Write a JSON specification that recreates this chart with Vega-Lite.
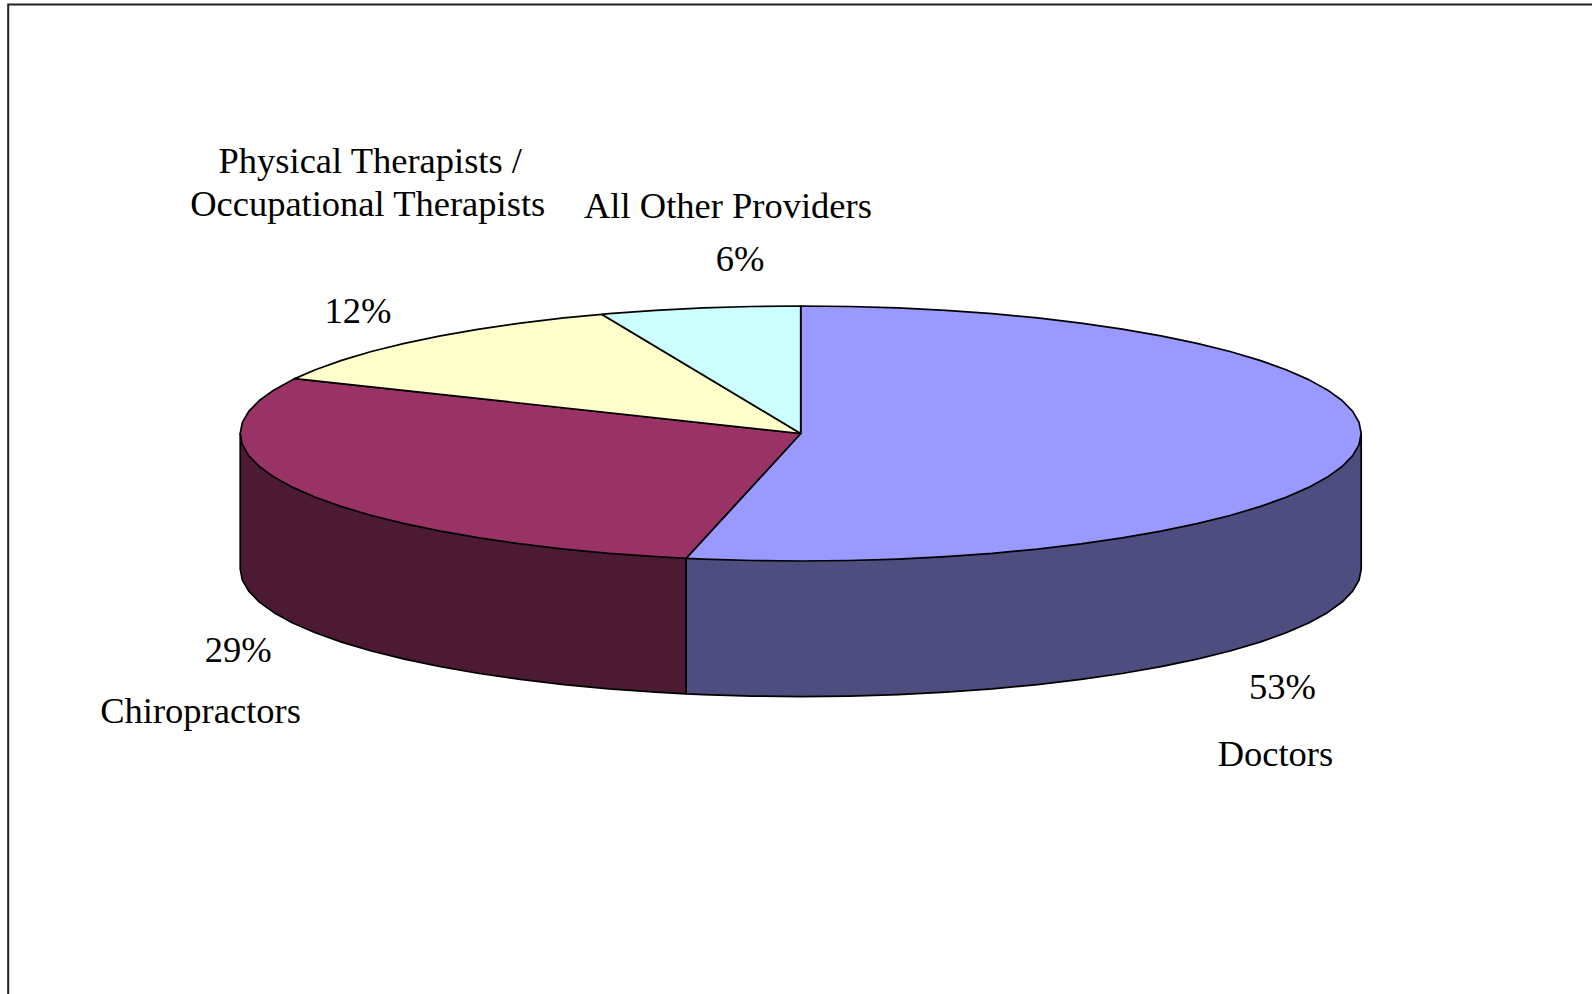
{
"$schema":"https://vega.github.io/schema/vega-lite/v6.json",
"width":1592,"height":994,
"autosize":{"type":"fit","contains":"padding"},
"padding":0,
"background":"white",
"view":{"stroke":null},
"config":{"style":{"cell":{"stroke":null}}},
"layer":[
{"data":{"values":[
{"o":1,"x":-141.4,"y":-439.6},{"o":2,"x":-141.4,"y":336.5},{"o":3,"x":141.18,"y":336.5}
]},
"mark":{"type":"line","stroke":"#222222","strokeWidth":2,"clip":true},
"encoding":{
"x":{"field":"x","type":"quantitative","scale":{"domain":[-142.86,141.18],"nice":false,"zero":false},"axis":null},
"y":{"field":"y","type":"quantitative","scale":{"domain":[-439.6,340],"nice":false,"zero":false},"axis":null},
"order":{"field":"o"}}},
{"data":{"values":[
{"s":"Doctors side","o":0,"x":100,"y":0},
{"s":"Doctors side","o":1,"x":100,"y":-106.3},
{"s":"Doctors side","o":2,"x":99.62,"y":-115.02},
{"s":"Doctors side","o":3,"x":98.48,"y":-123.66},
{"s":"Doctors side","o":4,"x":96.59,"y":-132.18},
{"s":"Doctors side","o":5,"x":93.97,"y":-140.5},
{"s":"Doctors side","o":6,"x":90.63,"y":-148.56},
{"s":"Doctors side","o":7,"x":86.6,"y":-156.3},
{"s":"Doctors side","o":8,"x":81.92,"y":-163.66},
{"s":"Doctors side","o":9,"x":76.6,"y":-170.58},
{"s":"Doctors side","o":10,"x":70.71,"y":-177.01},
{"s":"Doctors side","o":11,"x":64.28,"y":-182.9},
{"s":"Doctors side","o":12,"x":57.36,"y":-188.22},
{"s":"Doctors side","o":13,"x":50,"y":-192.9},
{"s":"Doctors side","o":14,"x":42.26,"y":-196.93},
{"s":"Doctors side","o":15,"x":34.2,"y":-200.27},
{"s":"Doctors side","o":16,"x":25.88,"y":-202.89},
{"s":"Doctors side","o":17,"x":17.36,"y":-204.78},
{"s":"Doctors side","o":18,"x":8.72,"y":-205.92},
{"s":"Doctors side","o":19,"x":0,"y":-206.3},
{"s":"Doctors side","o":20,"x":-8.72,"y":-205.92},
{"s":"Doctors side","o":21,"x":-17.36,"y":-204.78},
{"s":"Doctors side","o":22,"x":-20.45,"y":-204.19},
{"s":"Doctors side","o":23,"x":-20.45,"y":-97.89},
{"s":"Chiropractors side","o":0,"x":-20.45,"y":-97.89},
{"s":"Chiropractors side","o":1,"x":-20.45,"y":-204.19},
{"s":"Chiropractors side","o":2,"x":-25.88,"y":-202.89},
{"s":"Chiropractors side","o":3,"x":-34.2,"y":-200.27},
{"s":"Chiropractors side","o":4,"x":-42.26,"y":-196.93},
{"s":"Chiropractors side","o":5,"x":-50,"y":-192.9},
{"s":"Chiropractors side","o":6,"x":-57.36,"y":-188.22},
{"s":"Chiropractors side","o":7,"x":-64.28,"y":-182.9},
{"s":"Chiropractors side","o":8,"x":-70.71,"y":-177.01},
{"s":"Chiropractors side","o":9,"x":-76.6,"y":-170.58},
{"s":"Chiropractors side","o":10,"x":-81.92,"y":-163.66},
{"s":"Chiropractors side","o":11,"x":-86.6,"y":-156.3},
{"s":"Chiropractors side","o":12,"x":-90.63,"y":-148.56},
{"s":"Chiropractors side","o":13,"x":-93.97,"y":-140.5},
{"s":"Chiropractors side","o":14,"x":-96.59,"y":-132.18},
{"s":"Chiropractors side","o":15,"x":-98.48,"y":-123.66},
{"s":"Chiropractors side","o":16,"x":-99.62,"y":-115.02},
{"s":"Chiropractors side","o":17,"x":-100,"y":-106.3},
{"s":"Chiropractors side","o":18,"x":-100,"y":0},
{"s":"Doctors","o":0,"x":0,"y":0},
{"s":"Doctors","o":1,"x":0,"y":100},
{"s":"Doctors","o":2,"x":8.72,"y":99.62},
{"s":"Doctors","o":3,"x":17.36,"y":98.48},
{"s":"Doctors","o":4,"x":25.88,"y":96.59},
{"s":"Doctors","o":5,"x":34.2,"y":93.97},
{"s":"Doctors","o":6,"x":42.26,"y":90.63},
{"s":"Doctors","o":7,"x":50,"y":86.6},
{"s":"Doctors","o":8,"x":57.36,"y":81.92},
{"s":"Doctors","o":9,"x":64.28,"y":76.6},
{"s":"Doctors","o":10,"x":70.71,"y":70.71},
{"s":"Doctors","o":11,"x":76.6,"y":64.28},
{"s":"Doctors","o":12,"x":81.92,"y":57.36},
{"s":"Doctors","o":13,"x":86.6,"y":50},
{"s":"Doctors","o":14,"x":90.63,"y":42.26},
{"s":"Doctors","o":15,"x":93.97,"y":34.2},
{"s":"Doctors","o":16,"x":96.59,"y":25.88},
{"s":"Doctors","o":17,"x":98.48,"y":17.36},
{"s":"Doctors","o":18,"x":99.62,"y":8.72},
{"s":"Doctors","o":19,"x":100,"y":0},
{"s":"Doctors","o":20,"x":99.62,"y":-8.72},
{"s":"Doctors","o":21,"x":98.48,"y":-17.36},
{"s":"Doctors","o":22,"x":96.59,"y":-25.88},
{"s":"Doctors","o":23,"x":93.97,"y":-34.2},
{"s":"Doctors","o":24,"x":90.63,"y":-42.26},
{"s":"Doctors","o":25,"x":86.6,"y":-50},
{"s":"Doctors","o":26,"x":81.92,"y":-57.36},
{"s":"Doctors","o":27,"x":76.6,"y":-64.28},
{"s":"Doctors","o":28,"x":70.71,"y":-70.71},
{"s":"Doctors","o":29,"x":64.28,"y":-76.6},
{"s":"Doctors","o":30,"x":57.36,"y":-81.92},
{"s":"Doctors","o":31,"x":50,"y":-86.6},
{"s":"Doctors","o":32,"x":42.26,"y":-90.63},
{"s":"Doctors","o":33,"x":34.2,"y":-93.97},
{"s":"Doctors","o":34,"x":25.88,"y":-96.59},
{"s":"Doctors","o":35,"x":17.36,"y":-98.48},
{"s":"Doctors","o":36,"x":8.72,"y":-99.62},
{"s":"Doctors","o":37,"x":0,"y":-100},
{"s":"Doctors","o":38,"x":-8.72,"y":-99.62},
{"s":"Doctors","o":39,"x":-17.36,"y":-98.48},
{"s":"Doctors","o":40,"x":-20.45,"y":-97.89},
{"s":"Chiropractors","o":0,"x":0,"y":0},
{"s":"Chiropractors","o":1,"x":-20.45,"y":-97.89},
{"s":"Chiropractors","o":2,"x":-25.88,"y":-96.59},
{"s":"Chiropractors","o":3,"x":-34.2,"y":-93.97},
{"s":"Chiropractors","o":4,"x":-42.26,"y":-90.63},
{"s":"Chiropractors","o":5,"x":-50,"y":-86.6},
{"s":"Chiropractors","o":6,"x":-57.36,"y":-81.92},
{"s":"Chiropractors","o":7,"x":-64.28,"y":-76.6},
{"s":"Chiropractors","o":8,"x":-70.71,"y":-70.71},
{"s":"Chiropractors","o":9,"x":-76.6,"y":-64.28},
{"s":"Chiropractors","o":10,"x":-81.92,"y":-57.36},
{"s":"Chiropractors","o":11,"x":-86.6,"y":-50},
{"s":"Chiropractors","o":12,"x":-90.63,"y":-42.26},
{"s":"Chiropractors","o":13,"x":-93.97,"y":-34.2},
{"s":"Chiropractors","o":14,"x":-96.59,"y":-25.88},
{"s":"Chiropractors","o":15,"x":-98.48,"y":-17.36},
{"s":"Chiropractors","o":16,"x":-99.62,"y":-8.72},
{"s":"Chiropractors","o":17,"x":-100,"y":0},
{"s":"Chiropractors","o":18,"x":-99.62,"y":8.72},
{"s":"Chiropractors","o":19,"x":-98.48,"y":17.36},
{"s":"Chiropractors","o":20,"x":-96.59,"y":25.88},
{"s":"Chiropractors","o":21,"x":-93.97,"y":34.2},
{"s":"Chiropractors","o":22,"x":-90.63,"y":42.26},
{"s":"Chiropractors","o":23,"x":-90.26,"y":43.05},
{"s":"Physical Therapists / Occupational Therapists","o":0,"x":0,"y":0},
{"s":"Physical Therapists / Occupational Therapists","o":1,"x":-90.26,"y":43.05},
{"s":"Physical Therapists / Occupational Therapists","o":2,"x":-86.6,"y":50},
{"s":"Physical Therapists / Occupational Therapists","o":3,"x":-81.92,"y":57.36},
{"s":"Physical Therapists / Occupational Therapists","o":4,"x":-76.6,"y":64.28},
{"s":"Physical Therapists / Occupational Therapists","o":5,"x":-70.71,"y":70.71},
{"s":"Physical Therapists / Occupational Therapists","o":6,"x":-64.28,"y":76.6},
{"s":"Physical Therapists / Occupational Therapists","o":7,"x":-57.36,"y":81.92},
{"s":"Physical Therapists / Occupational Therapists","o":8,"x":-50,"y":86.6},
{"s":"Physical Therapists / Occupational Therapists","o":9,"x":-42.26,"y":90.63},
{"s":"Physical Therapists / Occupational Therapists","o":10,"x":-35.51,"y":93.48},
{"s":"All Other Providers","o":0,"x":0,"y":0},
{"s":"All Other Providers","o":1,"x":-35.51,"y":93.48},
{"s":"All Other Providers","o":2,"x":-34.2,"y":93.97},
{"s":"All Other Providers","o":3,"x":-25.88,"y":96.59},
{"s":"All Other Providers","o":4,"x":-17.36,"y":98.48},
{"s":"All Other Providers","o":5,"x":-8.72,"y":99.62},
{"s":"All Other Providers","o":6,"x":0,"y":100}
]},
"mark":{"type":"line","filled":true,"interpolate":"linear-closed","stroke":"#000000","strokeWidth":1.7,"strokeJoin":"round"},
"encoding":{
"x":{"field":"x","type":"quantitative","axis":null},
"y":{"field":"y","type":"quantitative","axis":null},
"color":{"field":"s","type":"nominal","legend":null,"scale":{
"domain":["Doctors side","Chiropractors side","Doctors","Chiropractors","Physical Therapists / Occupational Therapists","All Other Providers"],
"range":["#4D4D80","#4D1A33","#9999FF","#993366","#FFFFCC","#CCFFFF"]}},
"order":{"field":"o"}}},
{"data":{"values":[
{"label":"Physical Therapists /","x":-76.8,"y":212.6},
{"label":"Occupational Therapists","x":-77.26,"y":179.0},
{"label":"All Other Providers","x":-12.98,"y":177.6},
{"label":"6%","x":-10.83,"y":136.1},
{"label":"12%","x":-78.98,"y":95.5},
{"label":"29%","x":-100.37,"y":-170.6},
{"label":"Chiropractors","x":-107.08,"y":-218.6},
{"label":"53%","x":85.95,"y":-199.9},
{"label":"Doctors","x":84.7,"y":-252.2}
]},
"mark":{"type":"text","font":"Liberation Serif","fontSize":36.5,"color":"#000000","align":"center","baseline":"middle"},
"encoding":{
"x":{"field":"x","type":"quantitative","axis":null},
"y":{"field":"y","type":"quantitative","axis":null},
"text":{"field":"label"}}}
]
}
